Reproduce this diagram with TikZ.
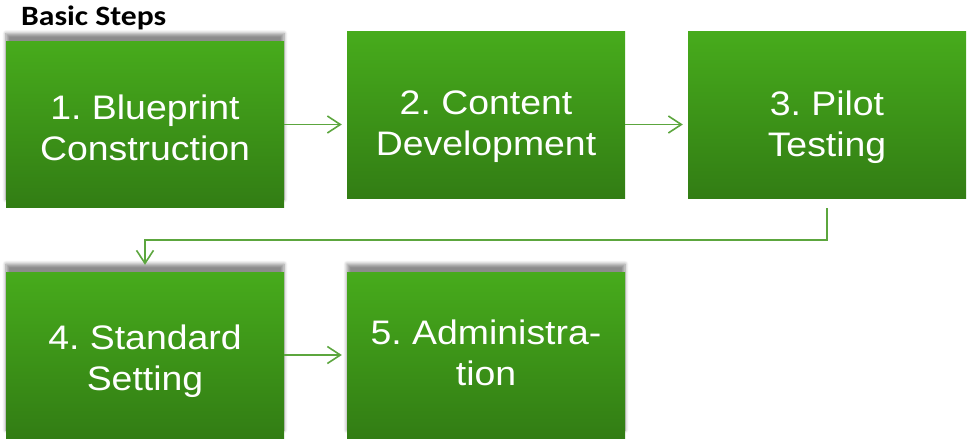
\documentclass[tikz,border=0pt]{standalone}
\usepackage{fontspec}
\newfontfamily\boxfont[FakeStretch=1.1]{Liberation Sans}
\newfontfamily\headfont[FakeStretch=1.13]{Carlito}
\usetikzlibrary{arrows.meta}
\usetikzlibrary{positioning}
\usetikzlibrary{shadows.blur}
\definecolor{stepgreen}{RGB}{71,171,28}
\definecolor{stepdark}{RGB}{50,125,20}
\definecolor{flowgreen}{RGB}{92,166,62}
\frenchspacing

\tikzset{
  stepbox/.style={rectangle, minimum width=278pt, minimum height=166pt, inner sep=0pt,
    top color=stepgreen, bottom color=stepdark},
  steptext/.style={text=white, align=center, inner sep=0pt,
    font=\boxfont\fontsize{34}{41}\selectfont},
  topshadow/.style={blur shadow={shadow xshift=0pt, shadow yshift=8pt,
    shadow blur radius=3.5pt, shadow blur steps=6, shadow opacity=45}},
  flow/.style={draw=flowgreen, line width=1.6pt,
    -{Straight Barb[length=13pt,width=17pt]}, shorten >=5pt}
}

\begin{document}
\begin{tikzpicture}[x=1pt,y=-1pt]
  \useasboundingbox (0,0) rectangle (971,441);
  %heading
  \node[anchor=base west, inner sep=0pt, font=\headfont\bfseries\fontsize{28}{30}\selectfont] (title) at (21,26) {Basic Steps};
  %boxes, first row
  \node[stepbox, topshadow] (b1) at (145,124.5) {};
  \node[stepbox] (b2) at (486,115) {};
  \node[stepbox] (b3) at (827,115) {};
  %boxes, second row
  \node[stepbox, topshadow] (b4) at (145,355) {};
  \node[stepbox, topshadow] (b5) at (486,355) {};
  %labels
  \node[steptext] (t1) at (145,128) {1. Blueprint\\Construction};
  \node[steptext] (t2) at (486,127) {2. Content\\Development};
  \node[steptext] (t3) at (827,127) {3. Pilot\\Testing};
  \node[steptext] (t4) at (145,361) {4. Standard\\Setting};
  \node[steptext] (t5) at (486,353) {5. Administra-\\tion};
  %arrows
  \draw[flow] (b1.east) -- (b1.east -| b2.west);
  \draw[flow] (b1.east -| b2.east) -- (b1.east -| b3.west);
  \draw[flow, shorten <=10pt, shorten >=7pt] (b3.south) -- ++(0,42) -| (b4.north);
  \draw[flow] (b4.east) -- (b5.west);
\end{tikzpicture}
\end{document}
